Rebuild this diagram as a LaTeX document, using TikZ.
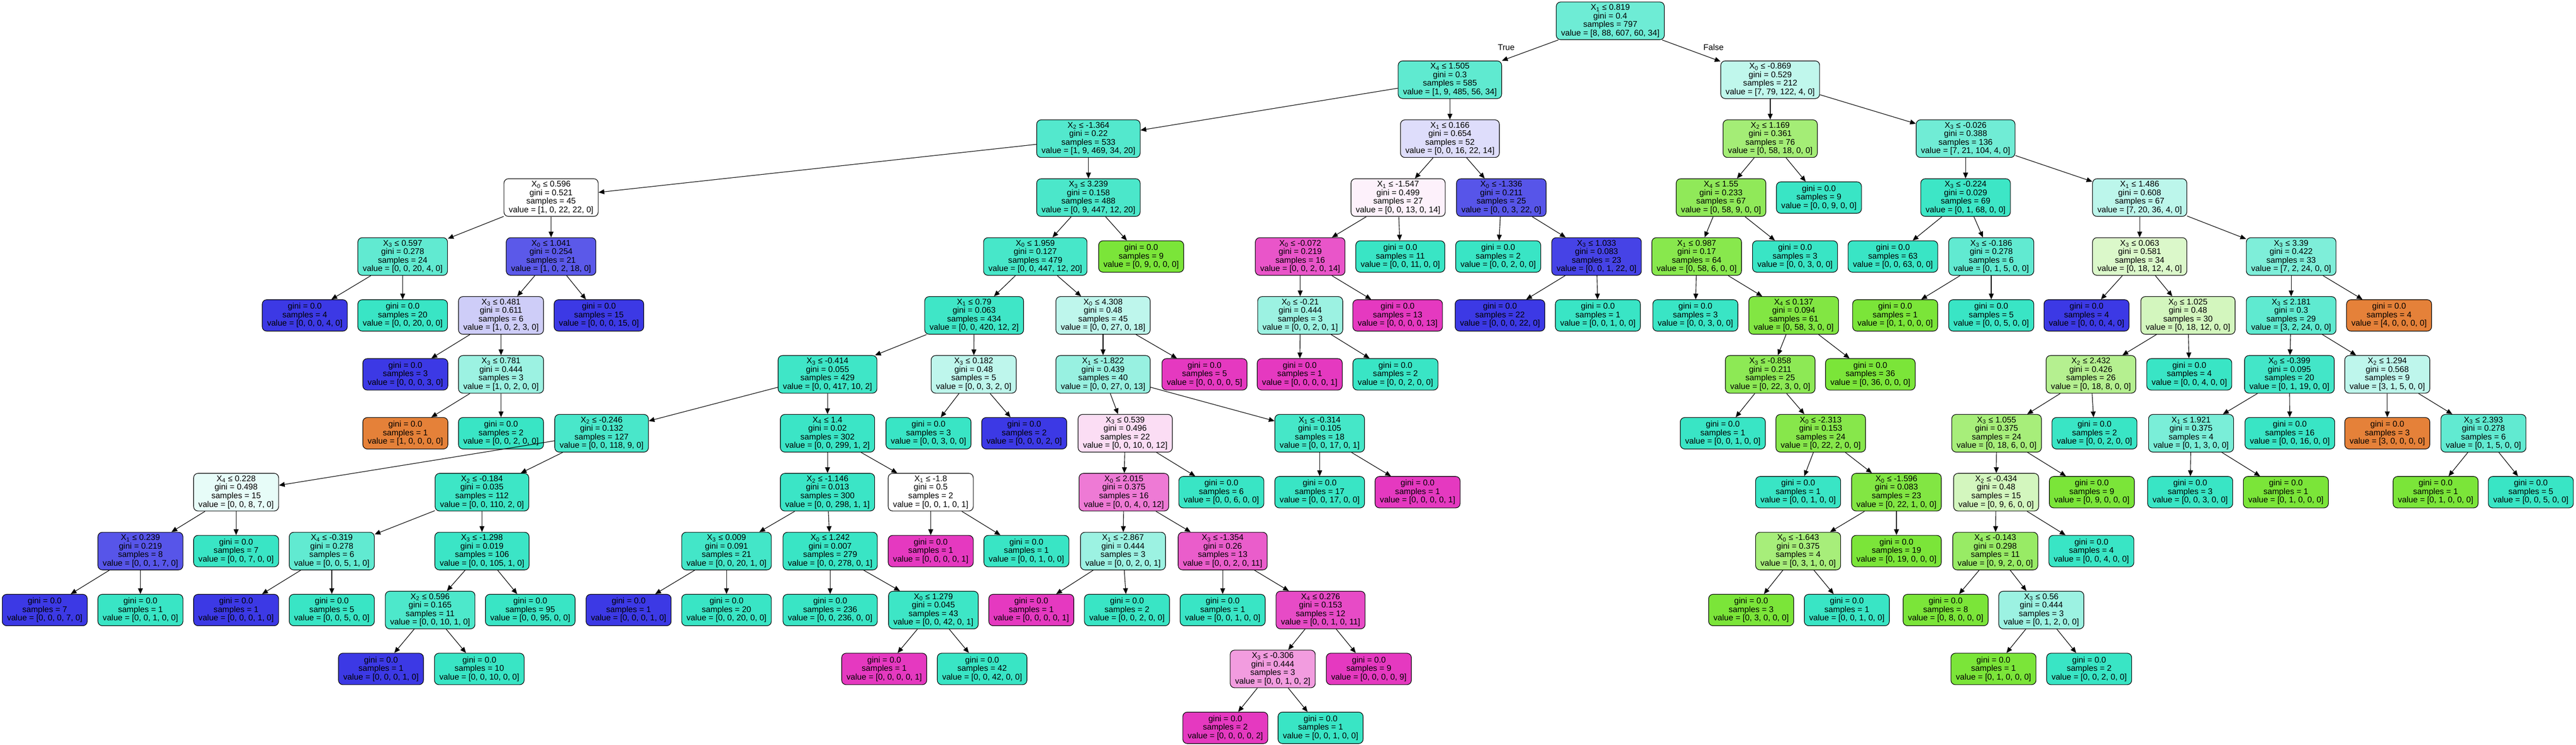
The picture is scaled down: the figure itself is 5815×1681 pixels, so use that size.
\documentclass[tikz,border=0pt]{standalone}
\usepackage{fontspec}
\setmainfont{Liberation Sans}
\usetikzlibrary{arrows.meta}
\definecolor{c0}{HTML}{E58139}
\definecolor{c1}{HTML}{7BE539}
\definecolor{c2}{HTML}{39E5C5}
\definecolor{c3}{HTML}{3C39E5}
\definecolor{c4}{HTML}{E539C0}
\newcommand\splitlabel[5]{X\textsubscript{#1} ≤ #2\\gini = #3\\samples = #4\\value = [#5]}
\newcommand\leaflabel[2]{gini = 0.0\\samples = #1\\value = [#2]}
\tikzset{
  >={Triangle[length=6.5pt,width=5.5pt]},
  box/.style={draw,rounded corners=5pt,line width=0.65pt,align=center,
    inner xsep=5.5pt,inner ysep=1pt,font=\fontsize{9.35pt}{9.6pt}\selectfont},
  split/.style={box,minimum height=42.5pt},
  leaf/.style={box,minimum height=35.5pt},
  edge/.style={->,line width=0.65pt},
  note/.style={font=\fontsize{9.35pt}{9.6pt}\selectfont}
}

\begin{document}
\begin{tikzpicture}[x=0.5pt,y=-0.5pt]
  \fill[white] (0,0) rectangle (5815,1681);
  \useasboundingbox (0,0) rectangle (5815,1681);

  % Root and first splits
  \node[split,fill=c2!73!white] (n0) at (3635,47) {\splitlabel{1}{0.819}{0.4}{797}{8, 88, 607, 60, 34}};
  \node[split,fill=c2!81!white] (n1) at (3273,180) {\splitlabel{4}{1.505}{0.3}{585}{1, 9, 485, 56, 34}};
  \node[split,fill=c2!32!white] (n2) at (3996,180) {\splitlabel{0}{-0.869}{0.529}{212}{7, 79, 122, 4, 0}};
  \node[note] (true)  at (3400,107) {True};
  \node[note] (false) at (3868,107) {False};

  % Depth 2
  \node[split,fill=c2!87!white] (n3) at (2457,313) {\splitlabel{2}{-1.364}{0.22}{533}{1, 9, 469, 34, 20}};
  \node[split,fill=c3!17!white] (n4) at (3273,313) {\splitlabel{1}{0.166}{0.654}{52}{0, 0, 16, 22, 14}};
  \node[split,fill=c1!69!white] (n5) at (3996,313) {\splitlabel{2}{1.169}{0.361}{76}{0, 58, 18, 0, 0}};
  \node[split,fill=c2!72!white] (n6) at (4437,313) {\splitlabel{3}{-0.026}{0.388}{136}{7, 21, 104, 4, 0}};

  % Depth 3
  \node[split,fill=white]       (n7)  at (1244,446) {\splitlabel{0}{0.596}{0.521}{45}{1, 0, 22, 22, 0}};
  \node[split,fill=c2!91!white] (n8)  at (2457,446) {\splitlabel{3}{3.239}{0.158}{488}{0, 9, 447, 12, 20}};
  \node[split,fill=c4!7!white]  (n9)  at (3156,446) {\splitlabel{1}{-1.547}{0.499}{27}{0, 0, 13, 0, 14}};
  \node[split,fill=c3!86!white] (n10) at (3389,446) {\splitlabel{0}{-1.336}{0.211}{25}{0, 0, 3, 22, 0}};
  \node[split,fill=c1!84!white] (n11) at (3885,446) {\splitlabel{4}{1.55}{0.233}{67}{0, 58, 9, 0, 0}};
  \node[leaf,fill=c2]           (n12) at (4106,446) {\leaflabel{9}{0, 0, 9, 0, 0}};
  \node[split,fill=c2!98!white] (n13) at (4437,446) {\splitlabel{3}{-0.224}{0.029}{69}{0, 1, 68, 0, 0}};
  \node[split,fill=c2!34!white] (n14) at (4830,446) {\splitlabel{1}{1.486}{0.608}{67}{7, 20, 36, 4, 0}};

  % Depth 4
  \node[split,fill=c2!80!white] (n15) at (909,579)  {\splitlabel{3}{0.597}{0.278}{24}{0, 0, 20, 4, 0}};
  \node[split,fill=c3!84!white] (n16) at (1244,579) {\splitlabel{0}{1.041}{0.254}{21}{1, 0, 2, 18, 0}};
  \node[split,fill=c2!93!white] (n17) at (2337,579) {\splitlabel{0}{1.959}{0.127}{479}{0, 0, 447, 12, 20}};
  \node[leaf,fill=c1]           (n18) at (2576,579) {\leaflabel{9}{0, 9, 0, 0, 0}};
  \node[split,fill=c4!86!white] (n19) at (2935,579) {\splitlabel{0}{-0.072}{0.219}{16}{0, 0, 2, 0, 14}};
  \node[leaf,fill=c2]           (n20) at (3161,579) {\leaflabel{11}{0, 0, 11, 0, 0}};
  \node[leaf,fill=c2]           (n21) at (3382,579) {\leaflabel{2}{0, 0, 2, 0, 0}};
  \node[split,fill=c3!95!white] (n22) at (3604,579) {\splitlabel{3}{1.033}{0.083}{23}{0, 0, 1, 22, 0}};
  \node[split,fill=c1!90!white] (n23) at (3830,579) {\splitlabel{1}{0.987}{0.17}{64}{0, 58, 6, 0, 0}};
  \node[leaf,fill=c2]           (n24) at (4052,579) {\leaflabel{3}{0, 0, 3, 0, 0}};
  \node[leaf,fill=c2]           (n25) at (4273,579) {\leaflabel{63}{0, 0, 63, 0, 0}};
  \node[split,fill=c2!80!white] (n26) at (4495,579) {\splitlabel{3}{-0.186}{0.278}{6}{0, 1, 5, 0, 0}};
  \node[split,fill=c1!27!white] (n27) at (4830,579) {\splitlabel{3}{0.063}{0.581}{34}{0, 18, 12, 4, 0}};
  \node[split,fill=c2!65!white] (n28) at (5172,579) {\splitlabel{3}{3.39}{0.422}{33}{7, 2, 24, 0, 0}};

  % Depth 5
  \node[leaf,fill=c3]           (n29) at (688,712)  {\leaflabel{4}{0, 0, 0, 4, 0}};
  \node[leaf,fill=c2]           (n30) at (909,712)  {\leaflabel{20}{0, 0, 20, 0, 0}};
  \node[split,fill=c3!25!white] (n31) at (1131,712) {\splitlabel{3}{0.481}{0.611}{6}{1, 0, 2, 3, 0}};
  \node[leaf,fill=c3]           (n32) at (1352,712) {\leaflabel{15}{0, 0, 0, 15, 0}};
  \node[split,fill=c2!97!white] (n33) at (2199,712) {\splitlabel{1}{0.79}{0.063}{434}{0, 0, 420, 12, 2}};
  \node[split,fill=c2!33!white] (n34) at (2490,712) {\splitlabel{0}{4.308}{0.48}{45}{0, 0, 27, 0, 18}};
  \node[split,fill=c2!50!white] (n35) at (2935,712) {\splitlabel{0}{-0.21}{0.444}{3}{0, 0, 2, 0, 1}};
  \node[leaf,fill=c4]           (n36) at (3155,712) {\leaflabel{13}{0, 0, 0, 0, 13}};
  \node[leaf,fill=c3]           (n37) at (3386,712) {\leaflabel{22}{0, 0, 0, 22, 0}};
  \node[leaf,fill=c2]           (n38) at (3607,712) {\leaflabel{1}{0, 0, 1, 0, 0}};
  \node[leaf,fill=c2]           (n39) at (3827,712) {\leaflabel{3}{0, 0, 3, 0, 0}};
  \node[split,fill=c1!95!white] (n40) at (4049,712) {\splitlabel{4}{0.137}{0.094}{61}{0, 58, 3, 0, 0}};
  \node[leaf,fill=c1]           (n41) at (4278,712) {\leaflabel{1}{0, 1, 0, 0, 0}};
  \node[leaf,fill=c2]           (n42) at (4495,712) {\leaflabel{5}{0, 0, 5, 0, 0}};
  \node[leaf,fill=c3]           (n43) at (4710,712) {\leaflabel{4}{0, 0, 0, 4, 0}};
  \node[split,fill=c1!33!white] (n44) at (4939,712) {\splitlabel{0}{1.025}{0.48}{30}{0, 18, 12, 0, 0}};
  \node[split,fill=c2!81!white] (n45) at (5172,712) {\splitlabel{3}{2.181}{0.3}{29}{3, 2, 24, 0, 0}};
  \node[leaf,fill=c0]           (n46) at (5393,712) {\leaflabel{4}{4, 0, 0, 0, 0}};

  % Depth 6
  \node[leaf,fill=c3]           (n47) at (915,845)  {\leaflabel{3}{0, 0, 0, 3, 0}};
  \node[split,fill=c2!50!white] (n48) at (1131,845) {\splitlabel{3}{0.781}{0.444}{3}{1, 0, 2, 0, 0}};
  \node[split,fill=c2!97!white] (n49) at (1868,845) {\splitlabel{3}{-0.414}{0.055}{429}{0, 0, 417, 10, 2}};
  \node[split,fill=c2!33!white] (n50) at (2198,845) {\splitlabel{3}{0.182}{0.48}{5}{0, 0, 3, 2, 0}};
  \node[split,fill=c2!52!white] (n51) at (2490,845) {\splitlabel{1}{-1.822}{0.439}{40}{0, 0, 27, 0, 13}};
  \node[leaf,fill=c4]           (n52) at (2719,845) {\leaflabel{5}{0, 0, 0, 0, 5}};
  \node[leaf,fill=c4]           (n53) at (2934,845) {\leaflabel{1}{0, 0, 0, 0, 1}};
  \node[leaf,fill=c2]           (n54) at (3150,845) {\leaflabel{2}{0, 0, 2, 0, 0}};
  \node[split,fill=c1!86!white] (n55) at (3996,845) {\splitlabel{3}{-0.858}{0.211}{25}{0, 22, 3, 0, 0}};
  \node[leaf,fill=c1]           (n56) at (4222,845) {\leaflabel{36}{0, 36, 0, 0, 0}};
  \node[split,fill=c1!56!white] (n57) at (4720,845) {\splitlabel{2}{2.432}{0.426}{26}{0, 18, 8, 0, 0}};
  \node[leaf,fill=c2]           (n58) at (4942,845) {\leaflabel{4}{0, 0, 4, 0, 0}};
  \node[split,fill=c2!95!white] (n59) at (5168,845) {\splitlabel{0}{-0.399}{0.095}{20}{0, 1, 19, 0, 0}};
  \node[split,fill=c2!33!white] (n60) at (5389,845) {\splitlabel{2}{1.294}{0.568}{9}{3, 1, 5, 0, 0}};

  % Depth 7
  \node[leaf,fill=c0]           (n61) at (915,978)  {\leaflabel{1}{1, 0, 0, 0, 0}};
  \node[leaf,fill=c2]           (n62) at (1131,978) {\leaflabel{2}{0, 0, 2, 0, 0}};
  \node[split,fill=c2!92!white] (n63) at (1358,978) {\splitlabel{2}{-0.246}{0.132}{127}{0, 0, 118, 9, 0}};
  \node[split,fill=c2!99!white] (n64) at (1868,978) {\splitlabel{4}{1.4}{0.02}{302}{0, 0, 299, 1, 2}};
  \node[leaf,fill=c2]           (n65) at (2096,978) {\leaflabel{3}{0, 0, 3, 0, 0}};
  \node[leaf,fill=c3]           (n66) at (2312,978) {\leaflabel{2}{0, 0, 0, 2, 0}};
  \node[split,fill=c4!17!white] (n67) at (2540,978) {\splitlabel{3}{0.539}{0.496}{22}{0, 0, 10, 0, 12}};
  \node[split,fill=c2!94!white] (n68) at (2979,978) {\splitlabel{1}{-0.314}{0.105}{18}{0, 0, 17, 0, 1}};
  \node[leaf,fill=c2]           (n69) at (3889,978) {\leaflabel{1}{0, 0, 1, 0, 0}};
  \node[split,fill=c1!91!white] (n70) at (4110,978) {\splitlabel{0}{-2.313}{0.153}{24}{0, 22, 2, 0, 0}};
  \node[split,fill=c1!67!white] (n71) at (4507,978) {\splitlabel{3}{1.055}{0.375}{24}{0, 18, 6, 0, 0}};
  \node[leaf,fill=c2]           (n72) at (4728,978) {\leaflabel{2}{0, 0, 2, 0, 0}};
  \node[split,fill=c2!67!white] (n73) at (4946,978) {\splitlabel{1}{1.921}{0.375}{4}{0, 1, 3, 0, 0}};
  \node[leaf,fill=c2]           (n74) at (5169,978) {\leaflabel{16}{0, 0, 16, 0, 0}};
  \node[leaf,fill=c0]           (n75) at (5389,978) {\leaflabel{3}{3, 0, 0, 0, 0}};
  \node[split,fill=c2!80!white] (n76) at (5606,978) {\splitlabel{3}{2.393}{0.278}{6}{0, 1, 5, 0, 0}};

  % Depth 8
  \node[split,fill=c2!12!white] (n77) at (533,1111)  {\splitlabel{4}{0.228}{0.498}{15}{0, 0, 8, 7, 0}};
  \node[split,fill=c2!98!white] (n78) at (1088,1111) {\splitlabel{2}{-0.184}{0.035}{112}{0, 0, 110, 2, 0}};
  \node[split,fill=c2!99!white] (n79) at (1868,1111) {\splitlabel{2}{-1.146}{0.013}{300}{0, 0, 298, 1, 1}};
  \node[split,fill=white]       (n80) at (2101,1111) {\splitlabel{1}{-1.8}{0.5}{2}{0, 0, 1, 0, 1}};
  \node[split,fill=c4!67!white] (n81) at (2537,1111) {\splitlabel{0}{2.015}{0.375}{16}{0, 0, 4, 0, 12}};
  \node[leaf,fill=c2]           (n82) at (2757,1111) {\leaflabel{6}{0, 0, 6, 0, 0}};
  \node[leaf,fill=c2]           (n83) at (2979,1111) {\leaflabel{17}{0, 0, 17, 0, 0}};
  \node[leaf,fill=c4]           (n84) at (3200,1111) {\leaflabel{1}{0, 0, 0, 0, 1}};
  \node[leaf,fill=c2]           (n85) at (4059,1111) {\leaflabel{1}{0, 0, 1, 0, 0}};
  \node[split,fill=c1!95!white] (n86) at (4281,1111) {\splitlabel{0}{-1.596}{0.083}{23}{0, 22, 1, 0, 0}};
  \node[split,fill=c1!33!white] (n87) at (4506,1111) {\splitlabel{2}{-0.434}{0.48}{15}{0, 9, 6, 0, 0}};
  \node[leaf,fill=c1]           (n88) at (4722,1111) {\leaflabel{9}{0, 9, 0, 0, 0}};
  \node[leaf,fill=c2]           (n89) at (4944,1111) {\leaflabel{3}{0, 0, 3, 0, 0}};
  \node[leaf,fill=c1]           (n90) at (5160,1111) {\leaflabel{1}{0, 1, 0, 0, 0}};
  \node[leaf,fill=c1]           (n91) at (5498,1111) {\leaflabel{1}{0, 1, 0, 0, 0}};
  \node[leaf,fill=c2]           (n92) at (5713,1111) {\leaflabel{5}{0, 0, 5, 0, 0}};

  % Depth 9
  \node[split,fill=c3!86!white] (n93)  at (317,1244)  {\splitlabel{1}{0.239}{0.219}{8}{0, 0, 1, 7, 0}};
  \node[leaf,fill=c2]           (n94)  at (533,1244)  {\leaflabel{7}{0, 0, 7, 0, 0}};
  \node[split,fill=c2!80!white] (n95)  at (749,1244)  {\splitlabel{4}{-0.319}{0.278}{6}{0, 0, 5, 1, 0}};
  \node[split,fill=c2!99!white] (n96)  at (1088,1244) {\splitlabel{3}{-1.298}{0.019}{106}{0, 0, 105, 1, 0}};
  \node[split,fill=c2!95!white] (n97)  at (1640,1244) {\splitlabel{3}{0.009}{0.091}{21}{0, 0, 20, 1, 0}};
  \node[split,fill=c2]          (n98)  at (1874,1244) {\splitlabel{0}{1.242}{0.007}{279}{0, 0, 278, 0, 1}};
  \node[leaf,fill=c4]           (n99)  at (2101,1244) {\leaflabel{1}{0, 0, 0, 0, 1}};
  \node[leaf,fill=c2]           (n100) at (2317,1244) {\leaflabel{1}{0, 0, 1, 0, 0}};
  \node[split,fill=c2!50!white] (n101) at (2535,1244) {\splitlabel{1}{-2.867}{0.444}{3}{0, 0, 2, 0, 1}};
  \node[split,fill=c4!82!white] (n102) at (2760,1244) {\splitlabel{3}{-1.354}{0.26}{13}{0, 0, 2, 0, 11}};
  \node[split,fill=c1!67!white] (n103) at (4059,1244) {\splitlabel{0}{-1.643}{0.375}{4}{0, 3, 1, 0, 0}};
  \node[leaf,fill=c1]           (n104) at (4281,1244) {\leaflabel{19}{0, 19, 0, 0, 0}};
  \node[split,fill=c1!78!white] (n105) at (4504,1244) {\splitlabel{4}{-0.143}{0.298}{11}{0, 9, 2, 0, 0}};
  \node[leaf,fill=c2]           (n106) at (4721,1244) {\leaflabel{4}{0, 0, 4, 0, 0}};

  % Depth 10
  \node[leaf,fill=c3]           (n107) at (101,1377)  {\leaflabel{7}{0, 0, 0, 7, 0}};
  \node[leaf,fill=c2]           (n108) at (317,1377)  {\leaflabel{1}{0, 0, 1, 0, 0}};
  \node[leaf,fill=c3]           (n109) at (533,1377)  {\leaflabel{1}{0, 0, 0, 1, 0}};
  \node[leaf,fill=c2]           (n110) at (749,1377)  {\leaflabel{5}{0, 0, 5, 0, 0}};
  \node[split,fill=c2!90!white] (n111) at (971,1377)  {\splitlabel{2}{0.596}{0.165}{11}{0, 0, 10, 1, 0}};
  \node[leaf,fill=c2]           (n112) at (1197,1377) {\leaflabel{95}{0, 0, 95, 0, 0}};
  \node[leaf,fill=c3]           (n113) at (1419,1377) {\leaflabel{1}{0, 0, 0, 1, 0}};
  \node[leaf,fill=c2]           (n114) at (1640,1377) {\leaflabel{20}{0, 0, 20, 0, 0}};
  \node[leaf,fill=c2]           (n115) at (1874,1377) {\leaflabel{236}{0, 0, 236, 0, 0}};
  \node[split,fill=c2!98!white] (n116) at (2107,1377) {\splitlabel{0}{1.279}{0.045}{43}{0, 0, 42, 0, 1}};
  \node[leaf,fill=c4]           (n117) at (2328,1377) {\leaflabel{1}{0, 0, 0, 0, 1}};
  \node[leaf,fill=c2]           (n118) at (2544,1377) {\leaflabel{2}{0, 0, 2, 0, 0}};
  \node[leaf,fill=c2]           (n119) at (2760,1377) {\leaflabel{1}{0, 0, 1, 0, 0}};
  \node[split,fill=c4!91!white] (n120) at (2981,1377) {\splitlabel{4}{0.276}{0.153}{12}{0, 0, 1, 0, 11}};
  \node[leaf,fill=c1]           (n121) at (3953,1377) {\leaflabel{3}{0, 3, 0, 0, 0}};
  \node[leaf,fill=c2]           (n122) at (4169,1377) {\leaflabel{1}{0, 0, 1, 0, 0}};
  \node[leaf,fill=c1]           (n123) at (4392,1377) {\leaflabel{8}{0, 8, 0, 0, 0}};
  \node[split,fill=c2!50!white] (n124) at (4608,1377) {\splitlabel{3}{0.56}{0.444}{3}{0, 1, 2, 0, 0}};

  % Depth 11 and 12
  \node[leaf,fill=c3]           (n125) at (860,1510)  {\leaflabel{1}{0, 0, 0, 1, 0}};
  \node[leaf,fill=c2]           (n126) at (1082,1510) {\leaflabel{10}{0, 0, 10, 0, 0}};
  \node[leaf,fill=c4]           (n127) at (1996,1510) {\leaflabel{1}{0, 0, 0, 0, 1}};
  \node[leaf,fill=c2]           (n128) at (2217,1510) {\leaflabel{42}{0, 0, 42, 0, 0}};
  \node[split,fill=c4!50!white] (n129) at (2873,1510) {\splitlabel{3}{-0.306}{0.444}{3}{0, 0, 1, 0, 2}};
  \node[leaf,fill=c4]           (n130) at (3090,1510) {\leaflabel{9}{0, 0, 0, 0, 9}};
  \node[leaf,fill=c1]           (n131) at (4500,1510) {\leaflabel{1}{0, 1, 0, 0, 0}};
  \node[leaf,fill=c2]           (n132) at (4716,1510) {\leaflabel{2}{0, 0, 2, 0, 0}};
  \node[leaf,fill=c4]           (n133) at (2766,1643) {\leaflabel{2}{0, 0, 0, 0, 2}};
  \node[leaf,fill=c2]           (n134) at (2981,1643) {\leaflabel{1}{0, 0, 1, 0, 0}};

  % Parent -> child edges
  \foreach \a/\b in {0/1,0/2,1/3,1/4,2/5,2/6,
    3/7,3/8,4/9,4/10,5/11,5/12,6/13,6/14,
    7/15,7/16,8/17,8/18,9/19,9/20,10/21,10/22,11/23,11/24,13/25,13/26,14/27,14/28,
    15/29,15/30,16/31,16/32,17/33,17/34,19/35,19/36,22/37,22/38,23/39,23/40,26/41,26/42,27/43,27/44,28/45,28/46,
    31/47,31/48,33/49,33/50,34/51,34/52,35/53,35/54,40/55,40/56,44/57,44/58,45/59,45/60,
    48/61,48/62,49/63,49/64,50/65,50/66,51/67,51/68,55/69,55/70,57/71,57/72,59/73,59/74,60/75,60/76,
    63/77,63/78,64/79,64/80,67/81,67/82,68/83,68/84,70/85,70/86,71/87,71/88,73/89,73/90,76/91,76/92,
    77/93,77/94,78/95,78/96,79/97,79/98,80/99,80/100,81/101,81/102,86/103,86/104,87/105,87/106,
    93/107,93/108,95/109,95/110,96/111,96/112,97/113,97/114,98/115,98/116,101/117,101/118,102/119,102/120,
    103/121,103/122,105/123,105/124,
    111/125,111/126,116/127,116/128,120/129,120/130,124/131,124/132,
    129/133,129/134}{
    \draw[edge] (n\a) -- (n\b);
  }
\end{tikzpicture}
\end{document}
